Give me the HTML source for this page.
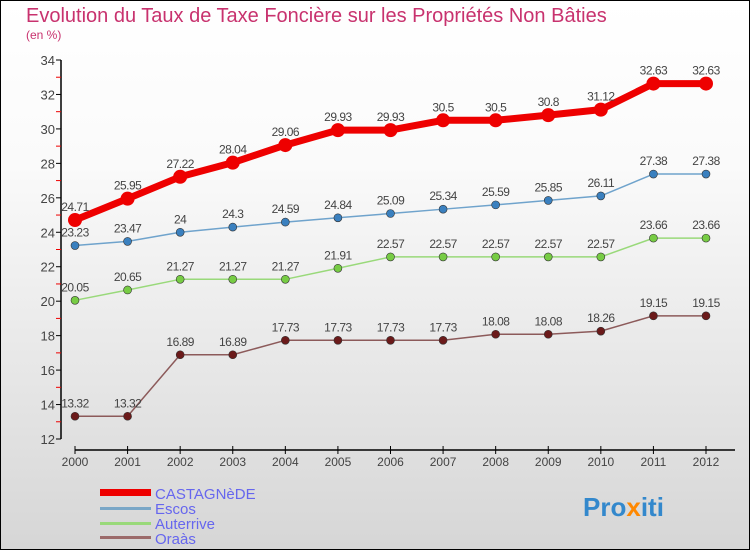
<!DOCTYPE html>
<html><head><meta charset="utf-8"><style>
html,body{margin:0;padding:0}
body{width:750px;height:550px;overflow:hidden;font-family:"Liberation Sans",sans-serif}
#c{position:absolute;left:0;top:0;width:748px;height:548px;border:1px solid #000;background:linear-gradient(#ffffff,#fafafa 30%,#d6d6d6)}
svg{position:absolute;left:0;top:0}
</style></head><body>
<div id="c"></div>
<svg id="s" width="750" height="550">
<text x="26" y="22" font-size="20" fill="#c8326e">Evolution du Taux de Taxe Foncière sur les Propriétés Non Bâties</text>
<text x="26" y="39" font-size="12" fill="#c8326e">(en %)</text>
<g id="ax"></g><g id="ser"></g>
<g>
<rect x="100" y="489" width="51" height="7" fill="#ee0000"/>
<text x="155" y="499" font-size="15" fill="#6666ee">CASTAGNèDE</text>
<rect x="100" y="507" width="51" height="3" fill="#7aa7c7"/>
<text x="155" y="514" font-size="15" fill="#6666ee">Escos</text>
<rect x="100" y="522" width="51" height="3" fill="#99d97a"/>
<text x="155" y="529" font-size="15" fill="#6666ee">Auterrive</text>
<rect x="100" y="536" width="51" height="3" fill="#9c6b6b"/>
<text x="155" y="544" font-size="15" fill="#6666ee">Oraàs</text>
</g>
<text x="583" y="516" font-size="26" font-weight="bold" fill="#3388cc">Pro<tspan fill="#ff8800">x</tspan>iti</text>
</svg>
<script>
const years=[2000,2001,2002,2003,2004,2005,2006,2007,2008,2009,2010,2011,2012];
const castagnede=[24.71,25.95,27.22,28.04,29.06,29.93,29.93,30.5,30.5,30.8,31.12,32.63,32.63];
const escos=[23.23,23.47,24,24.3,24.59,24.84,25.09,25.34,25.59,25.85,26.11,27.38,27.38];
const auterrive=[20.05,20.65,21.27,21.27,21.27,21.91,22.57,22.57,22.57,22.57,22.57,23.66,23.66];
const oraas=[13.32,13.32,16.89,16.89,17.73,17.73,17.73,17.73,18.08,18.08,18.26,19.15,19.15];
const yTicks=[12,14,16,18,20,22,24,26,28,30,32,34];
const NS="http://www.w3.org/2000/svg";
const X=i=>75+i*(706-75)/12;
const Y=v=>439-(v-12)*(379/22);
function mk(p,t,a){const e=document.createElementNS(NS,t);for(const k in a)e.setAttribute(k,a[k]);p.appendChild(e);return e;}
const ax=document.getElementById('ax');
let l=mk(ax,'line',{x1:61,y1:60,x2:61,y2:439,stroke:'#000','stroke-width':1.5});


l=mk(ax,'line',{x1:75,y1:450,x2:735,y2:450,stroke:'#000','stroke-width':1.5});


yTicks.forEach(v=>{
 mk(ax,'line',{x1:56,x2:61,y1:Y(v),y2:Y(v),stroke:'#000'});
 if(v<34) mk(ax,'line',{x1:56,x2:61,y1:Y(v+1),y2:Y(v+1),stroke:'#e00'});
 const t=mk(ax,'text',{x:55,y:Y(v)+5,'font-size':13,fill:'#444','text-anchor':'end'});
 t.textContent=v;
 
 
});
years.forEach((y,i)=>{
 mk(ax,'line',{x1:X(i),x2:X(i),y1:446,y2:454,stroke:'#000'});
 const t=mk(ax,'text',{x:X(i),y:466,'font-size':12,fill:'#444','text-anchor':'middle'});
 t.textContent=y;
 
 
});
const ser=document.getElementById('ser');
function series(name,vals,col,dot,w,r){
 const g=mk(ser,'g',{});
 
 
 const p=mk(g,'polyline',{points:vals.map((v,i)=>X(i)+','+Y(v)).join(' '),fill:'none',stroke:col,'stroke-width':w,'stroke-linejoin':'round'});
 
 
 vals.forEach((v,i)=>{
  const c=mk(g,'circle',{cx:X(i),cy:Y(v),r:r,fill:dot,stroke:'#333','stroke-width':name==='castagnede'?0:0.6});
  
  
  const t=mk(g,'text',{x:X(i),y:Y(v)-9,'font-size':12,fill:'#444','text-anchor':'middle','letter-spacing':'-0.5'});
  t.textContent=v;
  
  
 });
}
series('oraas',oraas,'#8c5a5a','#6b1a1a',1.5,4);
series('auterrive',auterrive,'#99d97a','#77cc44',1.5,4);
series('escos',escos,'#6fa3cc','#3a80bf',1.5,4);
series('castagnede',castagnede,'#ee0000','#ee0000',7,7);
</script>
</body></html>
